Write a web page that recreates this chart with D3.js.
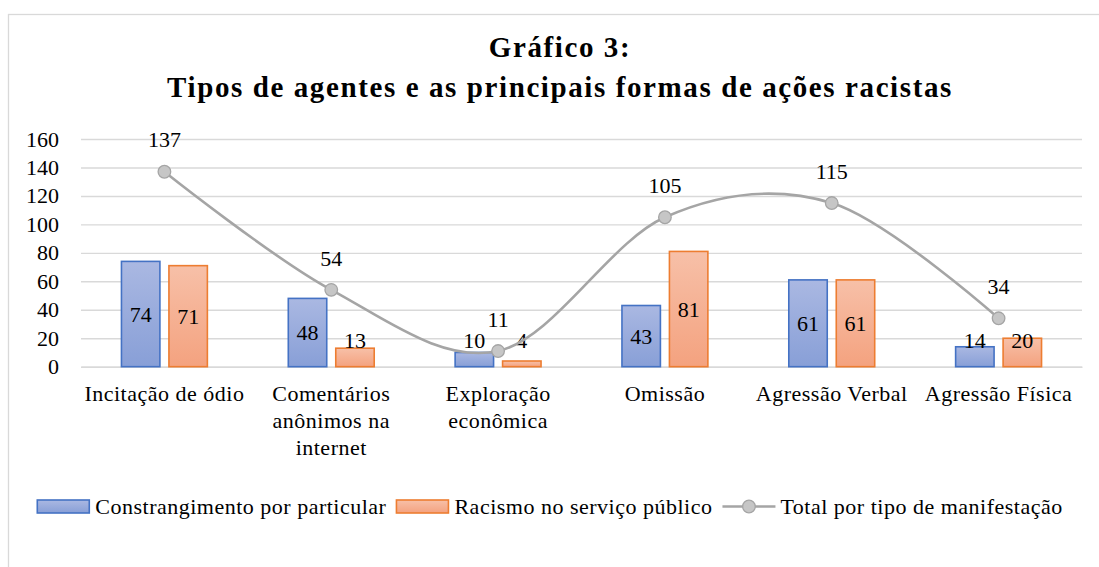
<!DOCTYPE html>
<html>
<head>
<meta charset="utf-8">
<script src="https://cdn.jsdelivr.net/npm/d3@7"></script>
<style>
  html, body { margin: 0; padding: 0; background: #fff; }
  svg { display: block; font-family: "Liberation Serif", "DejaVu Serif", serif; }
</style>
</head>
<body>
<div id="chart"></div>
<script>
const width = 1099;
const height = 567;

// categories, line breaks as in the original chart
const categories = [
  'Incitação de ódio',
  'Comentários\nanônimos na\ninternet',
  'Exploração\neconômica',
  'Omissão',
  'Agressão Verbal',
  'Agressão Física',
]

const particular = [74, 48, 10, 43, 61, 14]
const publico = [71, 13, 4, 81, 61, 20]
const total = [137, 54, 11, 105, 115, 34]

const seriesNames = ['Constrangimento por particular', 'Racismo no serviço público', 'Total por tipo de manifestação']
const yTicks = [0, 20, 40, 60, 80, 100, 120, 140, 160]

const titleLines = ['Gráfico 3:', 'Tipos de agentes e as principais formas de ações racistas']

const barSeries = [
  { key: 'particular', values: particular, stroke: '#4472C4', grad: ['#AAB8E2', '#889FD7'] },
  { key: 'publico', values: publico, stroke: '#ED7D31', grad: ['#F7C0A8', '#F4A27F'] },
]

const fontSize = '22px'
const spacing = '0.5px'

const xScale = d3.scaleBand()
  .domain(categories)
  .range([81, 1082])
  .paddingInner(0.485)
  .paddingOuter(0.2425)

const xSub = d3.scaleBand()
  .domain(barSeries.map(s => s.key))
  .range([0, xScale.bandwidth()])
  .paddingInner(0.19)

const yScale = d3.scaleLinear()
  .domain([0, 160])
  .range([366.7, 139])

const center = c => xScale(c) + xScale.bandwidth() / 2

const svg = d3.select('#chart').append('svg')
  .attr('width', width)
  .attr('height', height)

const defs = svg.append('defs')
barSeries.forEach(s => {
  const g = defs.append('linearGradient')
    .attr('id', 'grad-' + s.key)
    .attr('x1', 0).attr('y1', 0).attr('x2', 0).attr('y2', 1)
  g.append('stop').attr('offset', '0%').attr('stop-color', s.grad[0])
  g.append('stop').attr('offset', '100%').attr('stop-color', s.grad[1])
})

// chart area border
svg.append('rect')
  .attr('x', 8.5)
  .attr('y', 14.5)
  .attr('width', 1200)
  .attr('height', 700)
  .attr('fill', 'none')
  .attr('stroke', '#D9D9D9')
  .attr('stroke-width', 1.3)

// title
svg.append('text')
  .attr('text-anchor', 'middle')
  .attr('font-weight', 'bold')
  .attr('font-size', '29px')
  .attr('letter-spacing', '1.6px')
  .attr('fill', '#000')
  .selectAll('tspan')
  .data(titleLines)
  .join('tspan')
  .attr('x', 560)
  .attr('y', (d, i) => 57 + i * 40)
  .text(d => d)

// gridlines + y axis
const yAxis = d3.axisLeft(yScale)
  .tickValues(yTicks)
  .tickSize(-(1082 - 81))
  .tickPadding(22)

svg.append('g')
  .attr('class', 'axis')
  .attr('transform', 'translate(81, 0)')
  .call(yAxis)
  .call(g => g.select('.domain').remove())
  .call(g => g.selectAll('line').attr('stroke', '#D9D9D9').attr('stroke-width', 1.4))
  .call(g => g.selectAll('text')
    .attr('font-family', '"Liberation Serif", serif')
    .attr('font-size', fontSize)
    .attr('fill', '#000'))

// x axis labels
const xAxis = d3.axisBottom(xScale).tickSize(0).tickFormat('')
svg.append('g')
  .attr('class', 'axis')
  .attr('transform', `translate(0, ${yScale(0)})`)
  .call(xAxis)
  .call(g => g.select('.domain').attr('stroke', '#D9D9D9').attr('stroke-width', 1.4))

svg.append('g')
  .selectAll('text')
  .data(categories)
  .join('text')
  .attr('text-anchor', 'middle')
  .attr('font-size', fontSize)
  .attr('letter-spacing', spacing)
  .attr('fill', '#000')
  .each(function (d) {
    d3.select(this).selectAll('tspan')
      .data(d.split('\n'))
      .join('tspan')
      .attr('x', center(d))
      .attr('y', (t, i) => 400.7 + i * 27)
      .text(t => t)
  })

// bars
const barGroups = svg.append('g')
  .selectAll('g')
  .data(barSeries)
  .join('g')

barGroups.selectAll('rect')
  .data(s => s.values.map((v, i) => ({ s, v, c: categories[i] })))
  .join('rect')
  .attr('x', d => xScale(d.c) + xSub(d.s.key))
  .attr('y', d => yScale(d.v))
  .attr('width', xSub.bandwidth())
  .attr('height', d => yScale(0) - yScale(d.v))
  .attr('fill', d => `url(#grad-${d.s.key})`)
  .attr('stroke', d => d.s.stroke)
  .attr('stroke-width', 1.6)

// bar labels: centred in the bar, but never lower than 26px above the axis
barGroups.selectAll('text')
  .data(s => s.values.map((v, i) => ({ s, v, c: categories[i] })))
  .join('text')
  .attr('x', d => xScale(d.c) + xSub(d.s.key) + xSub.bandwidth() / 2)
  .attr('y', d => Math.min(yScale(d.v / 2), yScale(0) - 26))
  .attr('dy', '0.35em')
  .attr('text-anchor', 'middle')
  .attr('font-size', fontSize)
  .attr('fill', '#000')
  .text(d => d.v)

// total line, smoothed the way the spreadsheet does it
const totalLine = d3.line()
  .x((d, i) => center(categories[i]))
  .y(d => yScale(d))
  .curve(d3.curveCatmullRom.alpha(0))

svg.append('path')
  .attr('d', totalLine(total))
  .attr('fill', 'none')
  .attr('stroke', '#A5A5A5')
  .attr('stroke-width', 2.6)

svg.append('g')
  .selectAll('circle')
  .data(total)
  .join('circle')
  .attr('cx', (d, i) => center(categories[i]))
  .attr('cy', d => yScale(d))
  .attr('r', 6.3)
  .attr('fill', '#C6C6C6')
  .attr('stroke', '#A5A5A5')
  .attr('stroke-width', 1.3)

svg.append('g')
  .selectAll('text')
  .data(total)
  .join('text')
  .attr('x', (d, i) => center(categories[i]))
  .attr('y', d => yScale(d) - 32)
  .attr('dy', '0.35em')
  .attr('text-anchor', 'middle')
  .attr('font-size', fontSize)
  .attr('fill', '#000')
  .text(d => d)

// legend, laid out from measured text widths and centred
const legend = svg.append('g').attr('transform', 'translate(0, 506.5)')
const items = legend.selectAll('g')
  .data(seriesNames)
  .join('g')

items.each(function (name, i) {
  const g = d3.select(this)
  if (i < 2) {
    const s = barSeries[i]
    g.append('rect')
      .attr('x', 0).attr('y', -6.5)
      .attr('width', 52).attr('height', 13)
      .attr('fill', `url(#grad-${s.key})`)
      .attr('stroke', s.stroke)
      .attr('stroke-width', 1.6)
  } else {
    g.append('line')
      .attr('x1', 0).attr('x2', 53)
      .attr('stroke', '#A5A5A5')
      .attr('stroke-width', 2.6)
    g.append('circle')
      .attr('cx', 26.5).attr('r', 6.3)
      .attr('fill', '#C6C6C6')
      .attr('stroke', '#A5A5A5')
      .attr('stroke-width', 1.3)
  }
  g.append('text')
    .attr('x', 58)
    .attr('dy', '0.35em')
    .attr('font-size', fontSize)
    .attr('letter-spacing', spacing)
    .attr('fill', '#000')
    .text(name)
})

let offset = 0
const widths = []
items.each(function () {
  const w = 58 + d3.select(this).select('text').node().getComputedTextLength()
  widths.push(w)
})
const totalWidth = d3.sum(widths) + 10 * (widths.length - 1)
offset = 550 - totalWidth / 2
items.attr('transform', (d, i) => {
  const x = offset
  offset += widths[i] + 10
  return `translate(${x}, 0)`
})
</script>
</body>
</html>
